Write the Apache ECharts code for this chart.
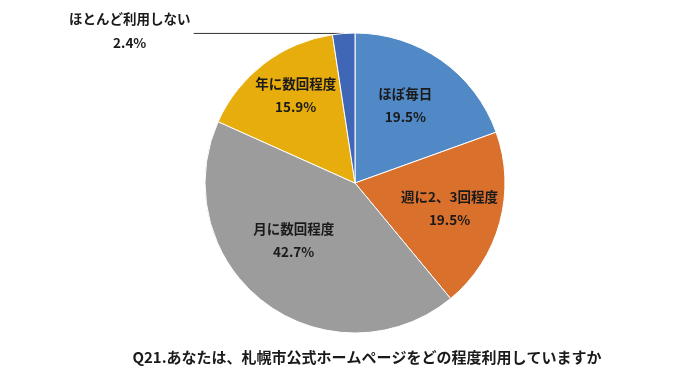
<!DOCTYPE html>
<html><head><meta charset="utf-8">
<script src="https://cdn.jsdelivr.net/npm/echarts@6/dist/echarts.min.js"></script>
<style>html,body{margin:0;padding:0;background:#fff}#c{width:700px;height:378px}</style>
</head><body><div id="c"></div>
<script>
const categories = ['ほぼ毎日', '週に2、3回程度', '月に数回程度', '年に数回程度', 'ほとんど利用しない'];
const values = [19.5, 19.5, 42.7, 15.9, 2.4];
const colors = ['#5089C6', '#D9702C', '#9C9C9C', '#E7AD0C', '#3F67B5'];
const titleText = 'Q21.あなたは、札幌市公式ホームページをどの程度利用していますか';
const FONT = '"Noto Sans CJK JP", "Noto Sans", sans-serif';

const chart = echarts.init(document.getElementById('c'), null, {renderer: 'canvas'});
const fmt = v => v.toFixed(1) + '%';
const outsideIdx = 4;
// small label nudges to mimic the original label placement
const nudge = [[-6, 3], [0, 0], [-2, -21], [0, -10], [0, 0]];

chart.setOption({
  animation: false,
  backgroundColor: '#fff',
  title: {
    text: titleText, left: 362, top: 345, textAlign: 'center',
    textStyle: {fontFamily: FONT, fontSize: 15, fontWeight: 'bold', color: '#1a1a1a'}
  },
  series: [
    {
      type: 'pie', center: [355, 183], radius: [0, 150], startAngle: 90, clockwise: true,
      silent: true,
      data: categories.map((c, i) => ({
        name: c, value: values[i],
        itemStyle: {color: colors[i]},
        label: i === outsideIdx ? {
          show: true, position: 'outside',
          formatter: '{a|' + c + '}\n{a|' + fmt(values[i]) + '}',
          distanceToLabelLine: 0,
          offset: [0, -3],
          rich: {a: {width: 128, align: 'center', fontFamily: FONT, fontSize: 13.5, fontWeight: 'bold', color: '#1a1a1a', lineHeight: 24}}
        } : {show: false},
        labelLine: i === outsideIdx ? {show: true, length: 0, length2: 150, smooth: false, lineStyle: {color: '#333', width: 1}} : {show: false}
      })),
      itemStyle: {borderColor: '#fff', borderWidth: 1}
    },
    {
      type: 'pie', center: [355, 183], radius: [40, 150], startAngle: 90, clockwise: true,
      silent: true,
      itemStyle: {color: 'rgba(0,0,0,0)'},
      labelLine: {show: false},
      data: categories.map((c, i) => ({
        name: c, value: values[i],
        label: i === outsideIdx ? {show: false} : {
          show: true, position: 'inside',
          formatter: c + '\n' + fmt(values[i]),
          offset: nudge[i],
          fontFamily: FONT, fontSize: 13.5, fontWeight: 'bold', color: '#1a1a1a', lineHeight: 23, align: 'center'
        }
      }))
    }
  ]
});
</script></body></html>
